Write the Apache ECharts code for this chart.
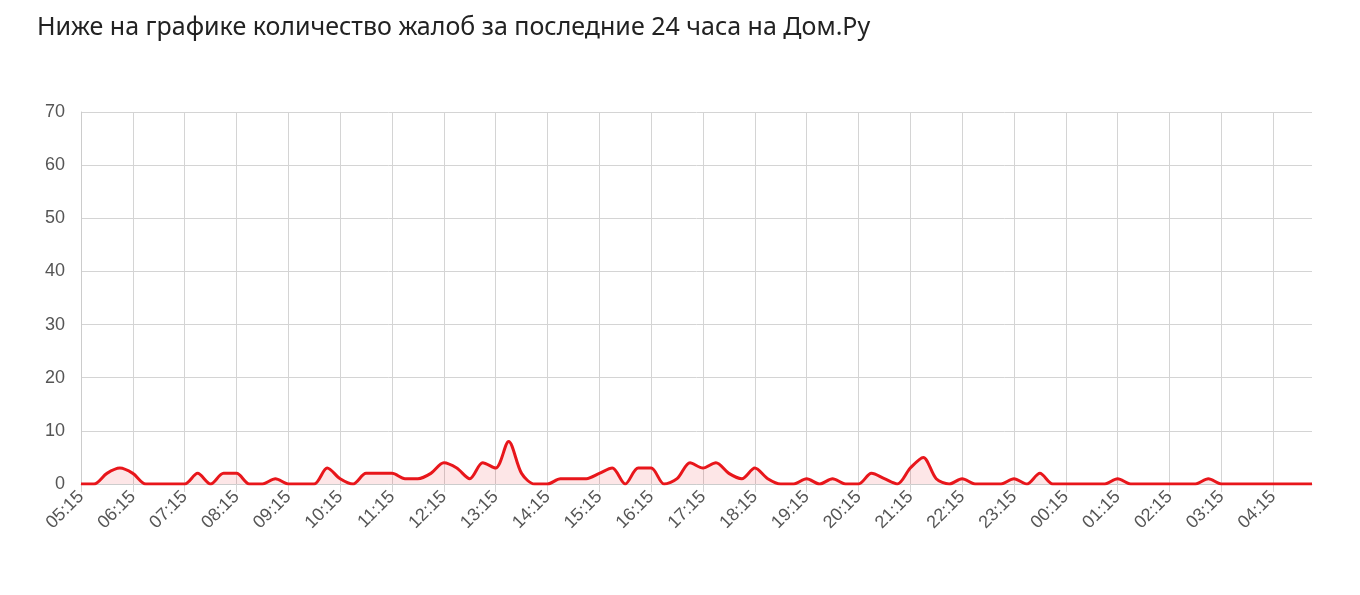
<!DOCTYPE html>
<html><head><meta charset="utf-8">
<script src="https://cdn.jsdelivr.net/npm/echarts@6/dist/echarts.min.js"></script>
<style>html,body{margin:0;background:#fff}#c{width:1360px;height:595px}</style>
</head><body><div id="c"></div>
<script>
const startHour = 5, startMin = 15;
const complaints = [
  0,0,2,3,2,0,0,0, 0,2,0,2,2,0,0,1, 0,0,0,3,1,0,2,2,
  2,1,1,2,4,3,1,4, 3,8,2,0,0,1,1,1, 2,3,0,3,3,0,1,4,
  3,4,2,1,3,1,0,0, 1,0,1,0,0,2,1,0, 3,5,1,0,1,0,0,0,
  1,0,2,0,0,0,0,0, 1,0,0,0,0,0,0,1, 0,0,0,0,0,0,0,0
];
const times = complaints.map((_, i) => {
  const m = startHour * 60 + startMin + i * 15;
  const h = Math.floor(m / 60) % 24, mm = m % 60;
  return String(h).padStart(2, '0') + ':' + String(mm).padStart(2, '0');
});

const chart = echarts.init(document.getElementById('c'));
chart.setOption({
  animation: false,
  title: {
    text: 'Ниже на графике количество жалоб за последние 24 часа на Дом.Ру',
    left: 32, top: 10,
    textStyle: { fontFamily: 'Noto Sans', fontSize: 25, fontWeight: 'normal', color: '#222' }
  },
  grid: { left: 81, right: 48, top: 112, bottom: 111 },
  xAxis: {
    type: 'category', data: times, boundaryGap: false,
    axisLine: { lineStyle: { color: '#ccc' } },
    axisTick: { show: true, interval: 3, length: 8, lineStyle: { color: '#d4d4d4' } },
    axisLabel: { interval: 3, rotate: 45, color: '#555', fontSize: 18, fontFamily: 'Liberation Sans', margin: 10 },
    splitLine: { show: true, interval: 3, lineStyle: { color: '#d4d4d4' } }
  },
  yAxis: {
    type: 'value', min: 0, max: 70, interval: 10,
    axisLine: { show: true, lineStyle: { color: '#ccc' } },
    axisLabel: { color: '#555', fontSize: 18, fontFamily: 'Liberation Sans', margin: 16 },
    splitLine: { lineStyle: { color: '#d4d4d4' } }
  },
  series: [{
    type: 'line', data: complaints, smooth: 0.3, symbol: 'none',
    lineStyle: { color: '#e8161b', width: 3 },
    areaStyle: { color: 'rgba(232,22,27,0.15)' }
  }]
});
</script></body></html>
